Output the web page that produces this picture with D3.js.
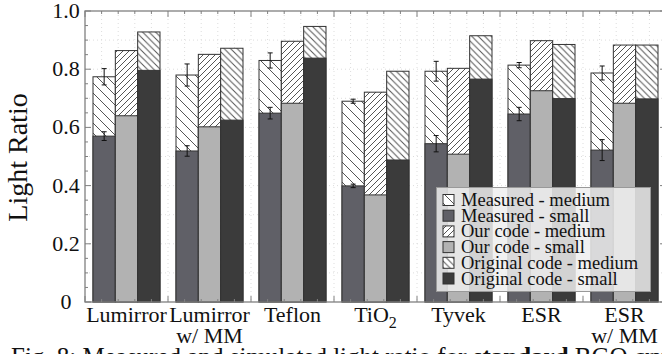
<!DOCTYPE html>
<html lang="en">
<head>
  <meta charset="UTF-8">
  <title>Light Ratio</title>
  <script src="https://d3js.org/d3.v7.min.js"></script>
  <style>
    body { margin: 0; padding: 0; background: #fff; overflow: hidden; }
    svg text { font-family: "Liberation Serif", "Times New Roman", Times, serif; }
  </style>
</head>
<body>
  <svg id="chart"></svg>
  <script>
    // Data
    const categories = ["Lumirror", "Lumirror|w/ MM", "Teflon", "TiO2", "Tyvek", "ESR", "ESR|w/ MM"];
    const measuredMedium    = [0.774, 0.780, 0.830, 0.690, 0.793, 0.814, 0.787];
    const measuredMediumErr = [0.028, 0.038, 0.026, 0.007, 0.034, 0.009, 0.024];
    const measuredSmall     = [0.570, 0.519, 0.649, 0.399, 0.544, 0.646, 0.522];
    const measuredSmallErr  = [0.015, 0.018, 0.020, 0.006, 0.028, 0.023, 0.036];
    const ourMedium         = [0.864, 0.851, 0.896, 0.721, 0.803, 0.898, 0.883];
    const ourSmall          = [0.640, 0.602, 0.683, 0.368, 0.508, 0.726, 0.683];
    const origMedium        = [0.928, 0.872, 0.947, 0.793, 0.915, 0.885, 0.883];
    const origSmall         = [0.796, 0.625, 0.838, 0.488, 0.766, 0.699, 0.698];
    const yTicks = [0, 0.2, 0.4, 0.6, 0.8, 1.0];
    const legendLabels = ["Measured - medium", "Measured - small", "Our code - medium",
                          "Our code - small", "Original code - medium", "Original code - small"];

    const width = 662, height = 354;
    const svg = d3.select("#chart").attr("width", width).attr("height", height);

    const x = d3.scaleLinear().domain([0.5, 7.5]).range([85, 666]);
    const y = d3.scaleLinear().domain([0, 1]).range([302, 11]);
    const inner = d3.scaleBand().domain(["meas", "our", "orig"]).range([-33.5, 33.5]);

    const colors = { meas: "#606067", our: "#b2b2b2", orig: "#3b3b3b" };

    // hatch patterns
    const defs = svg.append("defs");
    function hatch(id, size, dir) {
      const p = defs.append("pattern").attr("id", id)
        .attr("patternUnits", "userSpaceOnUse").attr("width", size).attr("height", size);
      p.append("rect").attr("width", size).attr("height", size).attr("fill", "#fff");
      const s = size;
      const d = dir === "back"
        ? `M0,0L${s},${s}M${-1},${s - 1}L1,${s + 1}M${s - 1},-1L${s + 1},1`
        : `M0,${s}L${s},0M-1,1L1,-1M${s - 1},${s + 1}L${s + 1},${s - 1}`;
      p.append("path").attr("d", d).attr("stroke", "#555").attr("stroke-width", 1);
    }
    hatch("h-meas", 10, "back");
    hatch("h-our", 6, "fwd");
    hatch("h-orig", 6.5, "back");

    // faint dotted grid
    const grid = svg.append("g").attr("stroke", "#ddd").attr("stroke-dasharray", "1,3");
    grid.selectAll("line.gx").data(d3.range(0.7, 7.5, 0.2)).enter().append("line")
      .attr("x1", d => x(d)).attr("x2", d => x(d)).attr("y1", y(1)).attr("y2", y(0));
    grid.selectAll("line.gy").data(d3.range(0.1, 1, 0.1)).enter().append("line")
      .attr("x1", x(0.5)).attr("x2", x(7.5)).attr("y1", d => y(d)).attr("y2", d => y(d));

    // bars
    const series = [
      { key: "meas", med: measuredMedium, small: measuredSmall, medErr: measuredMediumErr, smallErr: measuredSmallErr },
      { key: "our", med: ourMedium, small: ourSmall },
      { key: "orig", med: origMedium, small: origSmall }
    ];
    const bars = svg.append("g");
    series.forEach(s => {
      categories.forEach((c, i) => {
        const x0 = x(i + 1) + inner(s.key);
        const bw = inner.bandwidth();
        bars.append("rect")
          .attr("x", x0).attr("y", y(s.med[i]))
          .attr("width", bw).attr("height", y(0) - y(s.med[i]))
          .attr("fill", `url(#h-${s.key})`).attr("stroke", "#333").attr("stroke-width", 1);
        bars.append("rect")
          .attr("x", x0).attr("y", y(s.small[i]))
          .attr("width", bw).attr("height", y(0) - y(s.small[i]))
          .attr("fill", colors[s.key]).attr("stroke", "#333").attr("stroke-width", 1);
        if (s.medErr) {
          const cx = x0 + bw / 2;
          [[s.med[i], s.medErr[i]], [s.small[i], s.smallErr[i]]].forEach(([v, e]) => {
            const g = bars.append("g").attr("stroke", "#111").attr("stroke-width", 1);
            g.append("line").attr("x1", cx).attr("x2", cx).attr("y1", y(v - e)).attr("y2", y(v + e));
            g.append("line").attr("x1", cx - 2.5).attr("x2", cx + 2.5).attr("y1", y(v - e)).attr("y2", y(v - e));
            g.append("line").attr("x1", cx - 2.5).attr("x2", cx + 2.5).attr("y1", y(v + e)).attr("y2", y(v + e));
          });
        }
      });
    });

    // frame and ticks
    const frame = svg.append("g").attr("stroke", "#808080").attr("stroke-width", 1.3).attr("fill", "none");
    frame.append("rect").attr("x", x(0.5)).attr("y", y(1)).attr("width", x(7.5) - x(0.5)).attr("height", y(0) - y(1));
    const tk = svg.append("g").attr("stroke", "#808080").attr("stroke-width", 1);
    d3.range(0.5, 7.6, 0.2).forEach(v => {
      const major = Math.abs((v - 0.5) - Math.round(v - 0.5)) < 1e-6;
      const len = major ? 6 : 3;
      tk.append("line").attr("x1", x(v)).attr("x2", x(v)).attr("y1", y(0)).attr("y2", y(0) - len);
      tk.append("line").attr("x1", x(v)).attr("x2", x(v)).attr("y1", y(1)).attr("y2", y(1) + len);
    });
    d3.range(0, 1.001, 0.05).forEach(v => {
      const major = Math.abs(v * 5 - Math.round(v * 5)) < 1e-6;
      const len = major ? 6 : 3;
      tk.append("line").attr("x1", x(0.5)).attr("x2", x(0.5) + len).attr("y1", y(v)).attr("y2", y(v));
      tk.append("line").attr("x1", x(7.5)).attr("x2", x(7.5) - len).attr("y1", y(v)).attr("y2", y(v));
    });

    // y tick labels
    svg.append("g").selectAll("text").data(yTicks).enter().append("text")
      .attr("x", 66).attr("y", d => y(d) + 7)
      .attr("text-anchor", "middle").attr("font-size", 22).attr("fill", "#111")
      .text(d => d === 0 ? "0" : d.toFixed(1));

    // y label
    svg.append("text").attr("transform", `translate(27,${y(0.5) + 1}) rotate(-90)`)
      .attr("text-anchor", "middle").attr("font-size", 28).attr("fill", "#111")
      .text("Light Ratio");

    // x labels
    const xl = svg.append("g").attr("fill", "#111").attr("text-anchor", "middle");
    categories.forEach((c, i) => {
      const t = xl.append("text").attr("x", x(i + 1)).attr("y", 322).attr("font-size", 22);
      if (c === "TiO2") {
        t.append("tspan").text("TiO");
        t.append("tspan").attr("dy", 6).attr("font-size", 16).text("2");
        return;
      }
      const parts = c.split("|");
      t.text(parts[0]);
      if (parts[1]) xl.append("text").attr("x", x(i + 1)).attr("y", 343).attr("font-size", 22).text(parts[1]);
    });

    // legend
    const lg = svg.append("g");
    lg.append("rect").attr("x", 436.5).attr("y", 187.5).attr("width", 214).attr("height", 104)
      .attr("fill", "rgba(238,238,238,0.85)").attr("stroke", "#999").attr("stroke-width", 1);
    const legendFills = ["url(#h-meas)", colors.meas, "url(#h-our)", colors.our, "url(#h-orig)", colors.orig];
    legendLabels.forEach((l, i) => {
      const cy = 200 + i * 15.7;
      lg.append("rect").attr("x", 443).attr("y", cy - 5.5).attr("width", 11).attr("height", 11)
        .attr("fill", legendFills[i]).attr("stroke", "#333").attr("stroke-width", 1);
      lg.append("text").attr("x", 461).attr("y", cy + 6).attr("font-size", 18.5).attr("fill", "#111").text(l);
    });

    // caption (cut off by the image edge)
    const cap = svg.append("text").attr("x", 11).attr("y", 365).attr("font-size", 25).attr("fill", "#111");
    cap.append("tspan").text("Fig. 8: Measured and simulated light ratio for ");
    cap.append("tspan").attr("font-weight", "bold").text("standard");
    cap.append("tspan").text(" BGO crystals. See t");
  </script>
</body>
</html>
